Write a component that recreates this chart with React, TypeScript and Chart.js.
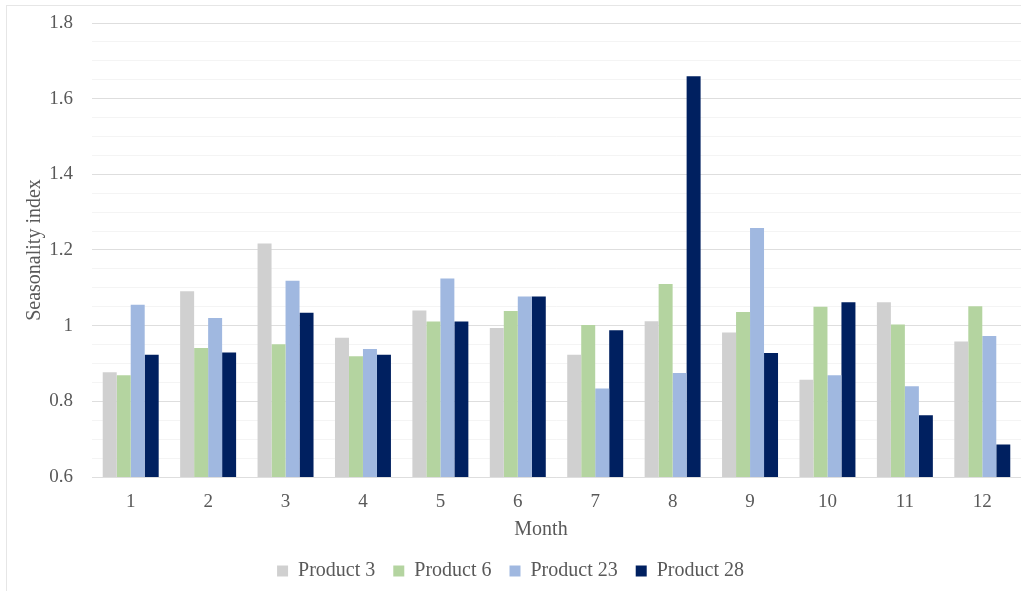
import React, { useEffect, useRef } from "react";
import { Chart, registerables } from "chart.js";

Chart.register(...registerables);

// Months on the category axis
const months = ["1", "2", "3", "4", "5", "6", "7", "8", "9", "10", "11", "12"];

// Seasonality index per month for each product
const product3 = [0.877, 1.091, 1.217, 0.968, 1.04, 0.994, 0.923, 1.012, 0.982, 0.857, 1.062, 0.958];
const product6 = [0.869, 0.941, 0.951, 0.919, 1.011, 1.039, 1.002, 1.11, 1.036, 1.05, 1.003, 1.051];
const product23 = [1.055, 1.02, 1.119, 0.938, 1.125, 1.077, 0.834, 0.875, 1.258, 0.869, 0.84, 0.973];
const product28 = [0.923, 0.929, 1.034, 0.923, 1.011, 1.077, 0.988, 1.659, 0.928, 1.062, 0.763, 0.686];

const seriesNames = ["Product 3", "Product 6", "Product 23", "Product 28"];
const seriesColors = ["#D0D0D0", "#B4D4A0", "#A0B8E0", "#002060"];

const yMin = 0.6;
const yMax = 1.8;

const FONT = "'Liberation Serif', 'Times New Roman', serif";
const TEXT_COLOR = "#595959";

const isMajor = (v: number) => Math.abs(v * 5 - Math.round(v * 5)) < 1e-6;

// Axis titles placed beside the plot area
const axisTitles = {
  id: "axisTitles",
  afterDraw(chart: Chart) {
    const { ctx, chartArea } = chart;
    ctx.save();
    ctx.fillStyle = TEXT_COLOR;
    ctx.font = `20px ${FONT}`;
    ctx.textAlign = "center";
    ctx.textBaseline = "middle";
    ctx.fillText("Month", 541, 530);
    ctx.translate(35, (chartArea.top + chartArea.bottom) / 2);
    ctx.rotate(-Math.PI / 2);
    ctx.fillText("Seasonality index", 0, 0);
    ctx.restore();
  },
};

export default function App() {
  const canvasRef = useRef<HTMLCanvasElement | null>(null);

  useEffect(() => {
    if (!canvasRef.current) return;
    const all = [product3, product6, product23, product28];
    const chart = new Chart(canvasRef.current, {
      type: "bar",
      data: {
        labels: months,
        datasets: all.map((values, i) => ({
          label: seriesNames[i],
          data: values,
          backgroundColor: seriesColors[i],
          borderWidth: 0,
          barPercentage: 1,
          categoryPercentage: 0.723,
        })),
      },
      options: {
        animation: false,
        responsive: false,
        maintainAspectRatio: false,
        layout: { padding: { top: 23, left: 0, right: 0, bottom: 0 } },
        plugins: {
          tooltip: { enabled: false },
          legend: {
            position: "bottom",
            labels: {
              color: TEXT_COLOR,
              font: { family: FONT, size: 20 },
              boxWidth: 11,
              boxHeight: 11,
              padding: 18,
            },
          },
        },
        scales: {
          x: {
            grid: { display: false },
            border: { display: false },
            ticks: {
              color: TEXT_COLOR,
              font: { family: FONT, size: 19 },
              padding: 6,
            },
            afterFit(scale: any) {
              scale.height = 66;
              scale.paddingLeft = 0;
              scale.paddingRight = 0;
            },
          },
          y: {
            min: yMin,
            max: yMax,
            z: 1,
            border: { display: false },
            grid: {
              drawTicks: false,
              color: (c: any) =>
                isMajor(c.tick.value) ? "rgba(0,0,0,0.13)" : "rgba(0,0,0,0.045)",
              lineWidth: 1,
            },
            ticks: {
              stepSize: 0.05,
              autoSkip: false,
              color: TEXT_COLOR,
              font: { family: FONT, size: 19 },
              padding: 19,
              callback: (v: any) => {
                const n = Number(v);
                return isMajor(n) ? String(Number(n.toFixed(2))) : "";
              },
            },
            afterFit(scale: any) {
              scale.width = 92;
              scale.paddingTop = 0;
              scale.paddingBottom = 0;
            },
          },
        },
      },
      plugins: [axisTitles],
    });
    return () => chart.destroy();
  }, []);

  return (
    <div
      style={{
        position: "fixed",
        left: 0,
        top: 0,
        width: 1021,
        height: 591,
        background: "#fff",
      }}
    >
      <div
        style={{
          position: "absolute",
          left: 6,
          top: 5,
          right: -2,
          bottom: -2,
          border: "1px solid #e6e6e6",
        }}
      />
      <canvas
        ref={canvasRef}
        width={1021}
        height={591}
        style={{ position: "absolute", left: 0, top: 0, width: 1021, height: 591 }}
      />
    </div>
  );
}
